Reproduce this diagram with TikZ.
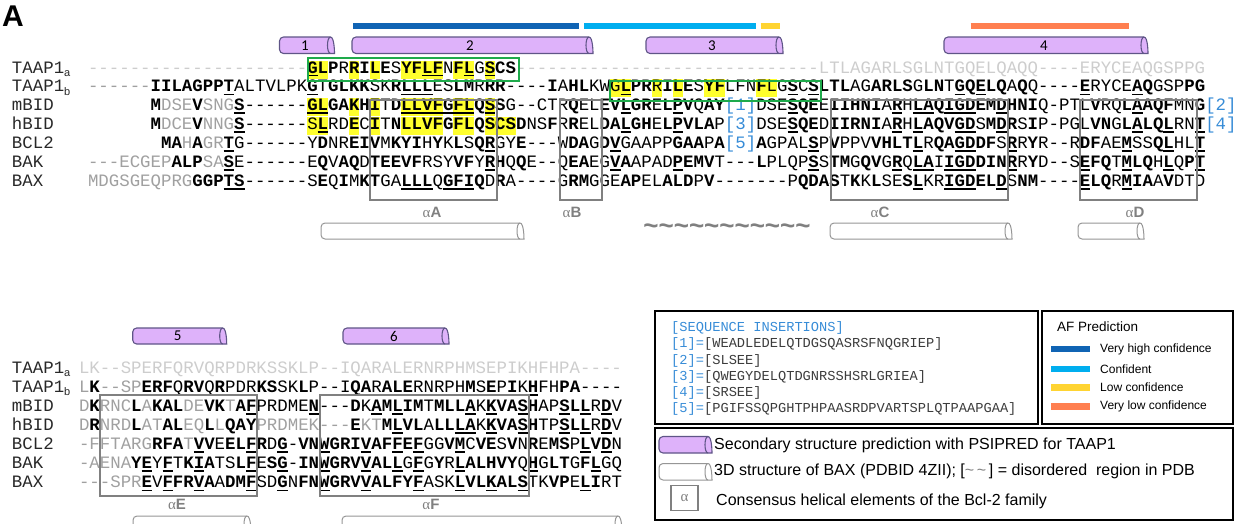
\documentclass[tikz,border=0pt]{standalone}
\usepackage{fontspec}
\setmainfont{Liberation Sans}
\setsansfont{Liberation Sans}
\setmonofont{Liberation Mono}
\newfontfamily\calib{Carlito}
\newfontfamily\serifgr{Liberation Serif}
\definecolor{sgray}{RGB}{160,160,160}
\definecolor{slight}{RGB}{205,205,205}
\definecolor{hl}{RGB}{255,255,45}
\definecolor{insb}{RGB}{55,140,215}
\definecolor{hgreen}{RGB}{30,170,75}
\definecolor{boxg}{RGB}{128,128,128}
\definecolor{labc}{RGB}{40,40,40}
\definecolor{afdark}{RGB}{16,100,180}
\definecolor{aflight}{RGB}{0,174,239}
\definecolor{afyel}{RGB}{255,212,50}
\definecolor{aforg}{RGB}{255,127,80}
\definecolor{purp}{RGB}{222,178,250}
\definecolor{purpd}{RGB}{95,85,135}
\definecolor{cylg}{RGB}{150,150,150}
\definecolor{legt}{RGB}{60,60,60}
\newcommand\seqfont{\ttfamily\fontsize{17.4}{18}\selectfont}
\newcommand\legmono{\ttfamily\fontsize{13.7}{14}\selectfont}
\newcommand\dd[1]{\ifnum#1>0 -\expandafter\dd\expandafter{\number\numexpr#1-1\relax}\fi}
\newcommand\sB[1]{{\bfseries\color{black}#1}}
\newcommand\sU[1]{\setbox0=\hbox{\bfseries\color{black}#1}\rlap{\color{black}\rule[-3.4pt]{\wd0}{1.8pt}}\box0\relax}
\newcommand\sY[1]{\setbox0=\hbox{\bfseries\color{black}#1}\rlap{\color{hl}\rule[-5.5pt]{\wd0}{18pt}}\box0\relax}
\newcommand\sYU[1]{\sY{\sU{#1}}}
\newcommand\sGY[1]{\setbox0=\hbox{#1}\rlap{\color{hl}\rule[-5.5pt]{\wd0}{18pt}}\box0\relax}
\newcommand\sI[1]{{\color{insb}#1}}
\newcommand\subl[1]{\raisebox{-3.5pt}{\sffamily\fontsize{11}{11}\selectfont #1}}
\newcommand\cyl[5]{%
 \draw[#5] (#3,#2) [rounded corners=4pt] -- (#1,#2) -- (#1,#4) -- (#3,#4) [sharp corners] .. controls ({#3+4},#4) and ({#3+4},#2) .. (#3,#2) -- cycle;
 \draw[#5,fill=none] (#3,#2) .. controls ({#3-4},#2) and ({#3-4},#4) .. (#3,#4);}
\newcommand\tl{\textasciitilde}
\begin{document}
\begin{tikzpicture}[x=1pt,y=-1pt,
  seq/.style={inner sep=0pt,outer sep=0pt,anchor=base west,text=sgray,font=\seqfont},
  lab/.style={inner sep=0pt,outer sep=0pt,anchor=base west,text=labc,font=\seqfont},
  hbx/.style={draw=boxg,line width=1.8pt},
  gbx/.style={draw=hgreen,line width=2.4pt},
  lbx/.style={draw=black,line width=2.8pt},
  cylp/.style={fill=purp,draw=purpd,line width=1.1pt},
  cylw/.style={fill=white,draw=cylg,line width=1pt},
  num/.style={inner sep=0pt,font=\calib\fontsize{15}{15}\selectfont,text=black},
  hlab/.style={inner sep=0pt,text=boxg,font=\sffamily\bfseries\fontsize{15}{15}\selectfont},
  afbar/.style={line width=6.5pt},
  leg/.style={inner sep=0pt,anchor=west,text=black,font=\sffamily\fontsize{16}{16}\selectfont},
  afl/.style={inner sep=0pt,anchor=west,text=black,font=\sffamily\fontsize{12}{12}\selectfont},
  lm/.style={inner sep=0pt,anchor=base west,text=legt,font=\legmono}]
\useasboundingbox (0,0) rectangle (1239,523);
\def\cw{10.44}
% panel letter
\node[inner sep=0pt,anchor=base west,font=\sffamily\bfseries\fontsize{30}{30}\selectfont] (pA) at (2,26) {A};
% AF prediction bars
\draw[afbar,afdark] (353,26) -- (579,26);
\draw[afbar,aflight] (584,26) -- (756,26);
\draw[afbar,afyel] (760.5,26) -- (780,26);
\draw[afbar,aforg] (970.7,26) -- (1129,26);
% PSIPRED cylinders
\cyl{279.5}{37}{330.5}{53.5}{cylp}
\cyl{352}{37}{589}{53.5}{cylp}
\cyl{646}{37}{779}{53.5}{cylp}
\cyl{944}{37}{1144}{53.5}{cylp}
\node[num] (n1) at (305,45.5) {1};
\node[num] (n2) at (470,45.5) {2};
\node[num] (n3) at (712,45.5) {3};
\node[num] (n4) at (1044,45.5) {4};
% top labels
\node[lab] (lt1) at (12,73) {TAAP1\subl{a}};
\node[lab] (lt2) at (12,91.9) {TAAP1\subl{b}};
\node[lab] (lt3) at (12,110.8) {mBID};
\node[lab] (lt4) at (12,129.7) {hBID};
\node[lab] (lt5) at (12,148.6) {BCL2};
\node[lab] (lt6) at (12,167.5) {BAK};
\node[lab] (lt7) at (12,186.4) {BAX};
% top sequences
\node[seq,text=slight] (t1) at (88,73) {\dd{21}{\color{sgray}\sYU{G}\sY{L}\sB{P}R\sY{R}\sB{I}\sY{L}\sB{E}S\sY{YF}\sYU{LF}N\sY{F}\sYU{L}G\sYU{S}\sB{CS}}\dd{29}LTLAGARLSGLNTGQELQAQQ----ERYCEAQGSPPG};
\node[seq] (t2) at (88,91.9) {\dd{6}\sB{IILAGPP}\sU{T}ALTVLPK\sU{G}T\sB{GLKK}SK\sB{R}\sU{LLL}ES\sB{LM}R\sB{RR}\dd{4}\sB{I}A\sB{HL}KW\sGY{G}\sYU{L}\sB{PR}\sGY{R}\sB{I}\sY{L}\sB{E}S\sY{YF}LFN\sY{F}\sGY{L}G\sU{S}C\sU{S}\sB{LTL}AG\sB{ARLS}G\sB{LN}T\sU{G}\sB{Q}\sU{E}\sB{LQ}A\sB{Q}Q\dd{4}\sU{E}RYCE\sU{A}\sB{Q}GSP\sB{PG}};
\node[seq] (t3) at ({88+6*\cw},110.8) {\sB{M}DSE\sB{V}SNG\sU{S}\dd{6}\sYU{GL}\sB{GA}\sY{K}\sB{H}\sY{I}T\sB{D}\sYU{LLVF}\sU{G}\sYU{FL}\sB{Q}\sYU{S}\sB{S}G\dd{2}CTR\sB{Q}EL\sB{EV}\sU{L}\sB{GR}E\sB{L}\sU{P}\sB{V}Q\sB{AY}\sI{[1]}DSE\sU{S}\sB{QE}E\sB{IIHNI}A\sU{R}H\sU{LA}\sB{Q}\sU{IGD}\sB{EM}\sU{D}\sB{HNI}Q-PTL\sB{V}RQ\sB{L}\sU{A}\sB{AQF}MN\sB{G}\sI{[2]}};
\node[seq] (t4) at ({88+6*\cw},129.7) {\sB{M}DCE\sB{V}NNG\sU{S}\dd{6}\sGY{S}\sYU{L}RD\sY{E}C\sY{I}T\sB{N}\sY{LLVF}\sB{G}\sY{FL}\sB{Q}\sY{SCS}\sB{D}NS\sB{F}R\sB{R}EL\sB{DA}\sU{L}\sB{GH}E\sB{L}\sU{P}\sB{VLA}P\sI{[3]}DSE\sU{S}\sB{QE}D\sB{IIRNI}A\sU{R}H\sU{L}\sB{AQV}\sU{GD}S\sB{M}\sU{D}\sB{R}S\sB{I}P-PGL\sB{VN}G\sB{L}\sU{A}\sB{LQ}\sU{L}RN\sU{T}\sI{[4]}};
\node[seq] (t5) at ({88+7*\cw},148.6) {\sB{MA}H\sB{A}GR\sU{T}G\dd{6}Y\sB{D}NR\sB{EIV}M\sB{KYI}H\sB{Y}K\sB{L}S\sB{Q}\sU{R}GY\sB{E}\dd{3}W\sB{DA}G\sB{D}\sU{V}GAAPP\sB{GAA}P\sB{A}\sI{[5]}\sB{A}GPAL\sU{S}P\sB{V}PPV\sB{VHLT}\sU{L}R\sB{QA}\sU{GD}\sB{DF}S\sU{R}R\sB{Y}R\dd{2}R\sB{DF}AE\sU{M}SS\sB{Q}\sU{L}HL\sU{T}};
\node[seq] (t6) at (88,167.5) {\dd{3}ECGEP\sB{ALP}SA\sU{S}E\dd{6}E\sB{Q}V\sB{AQ}D\sB{TEEVF}RSY\sB{VF}Y\sU{R}\sB{H}Q\sB{Q}E\dd{2}Q\sB{EA}EG\sU{V}\sB{A}APAD\sU{P}\sB{EMV}T\dd{3}\sB{L}PLQP\sU{S}S\sB{TM}G\sB{QV}G\sU{R}Q\sU{LA}I\sU{IGD}\sB{DIN}\sU{R}R\sB{Y}D\dd{2}S\sU{E}\sB{FQ}T\sU{M}\sB{LQ}H\sU{L}Q\sB{P}\sU{T}};
\node[seq] (t7) at (88,186.4) {MDGSGEQPRG\sB{GGP}\sU{TS}\dd{6}S\sB{E}Q\sB{I}M\sB{KT}GA\sU{LLL}Q\sU{GFI}\sB{Q}D\sB{R}A\dd{4}G\sB{RM}GGE\sB{AP}EL\sB{ALD}P\sB{V}\dd{7}P\sB{QDAS}T\sB{K}K\sB{L}SE\sB{S}\sU{L}KR\sU{IGD}\sB{EL}\sU{D}S\sB{NM}\dd{4}\sU{E}\sB{LQ}R\sU{M}\sB{IA}A\sB{V}DTD};
% green boxes
\draw[gbx] (308,58) rectangle (519,80.7);
\draw[gbx] (610,80.7) rectangle (821,100.7);
% helix boxes top
\draw[hbx] (370,100) rectangle (497,200);
\draw[hbx] (560,100) rectangle (602,200);
\draw[hbx] (831,100) rectangle (1008,200);
\draw[hbx] (1080,100) rectangle (1197,200);
\node[hlab] (ha) at (432,212) {{\serifgr\mdseries α}A};
\node[hlab] (hb) at (572,212) {{\serifgr\mdseries α}B};
\node[hlab] (hc) at (880,212) {{\serifgr\mdseries α}C};
\node[hlab] (hd) at (1135,212) {{\serifgr\mdseries α}D};
% BAX 3D cylinders
\cyl{321}{223}{520}{239}{cylw}
\cyl{830}{223}{1008}{239}{cylw}
\cyl{1078}{223}{1140}{239}{cylw}
\node[inner sep=0pt,text=boxg,font=\sffamily\bfseries\fontsize{26}{26}\selectfont] (tld) at (727,229) {\tl\tl\tl\tl\tl\tl\tl\tl\tl\tl\tl};
% bottom block
\cyl{132.7}{328}{222.7}{344}{cylp}
\cyl{343}{328}{445}{344}{cylp}
\node[num] (n5) at (177.7,336) {5};
\node[num] (n6) at (394,336) {6};
\node[lab] (lb1) at (12,373) {TAAP1\subl{a}};
\node[lab] (lb2) at (12,392.1) {TAAP1\subl{b}};
\node[lab] (lb3) at (12,411.3) {mBID};
\node[lab] (lb4) at (12,430.4) {hBID};
\node[lab] (lb5) at (12,449.6) {BCL2};
\node[lab] (lb6) at (12,468.7) {BAK};
\node[lab] (lb7) at (12,487.9) {BAX};
\node[seq,text=slight] (b1) at (79,373) {LK\dd{2}SPERFQRVQRPDRKSSKLP\dd{2}IQARALERNRPHMSEPIKHFHPA\dd{4}};
\node[seq] (b2) at (79,392.1) {L\sB{K}\dd{2}SP\sU{E}\sB{R}\sU{F}Q\sB{R}\sU{V}Q\sB{R}PDR\sB{KS}SK\sB{L}P\dd{2}I\sB{QA}R\sB{A}\sU{L}\sB{E}RNRPH\sB{M}S\sB{E}P\sB{I}K\sU{H}FH\sB{PA}\dd{4}};
\node[seq] (b3) at (79,411.3) {D\sB{K}RNC\sB{L}A\sB{KAL}DE\sB{VK}T\sB{A}\sU{F}PRDME\sU{N}\dd{3}\sB{D}K\sU{A}\sB{M}\sU{L}\sB{IM}T\sB{MLL}\sU{A}K\sU{K}\sB{VA}\sU{S}\sB{H}AP\sU{S}\sB{L}\sU{L}R\sU{D}V};
\node[seq] (b4) at (79,430.4) {D\sB{R}NRD\sB{L}AT\sB{AL}EQ\sB{L}L\sB{QAY}PRDMEK\dd{3}\sB{E}KT\sB{M}\sU{L}\sB{VL}A\sB{LL}\sU{LA}K\sU{K}\sB{VA}\sU{S}\sB{H}TP\sU{S}\sB{L}\sU{L}R\sU{D}V};
\node[seq] (b5) at (79,449.6) {-FFTARG\sB{RFA}T\sU{V}\sB{V}E\sB{EL}\sU{F}\sB{R}D\sU{G}-\sB{VN}\sU{W}\sB{GRI}\sU{V}\sB{AF}\sU{F}\sB{E}\sU{F}GG\sB{V}\sU{M}C\sB{VE}S\sB{V}N\sB{R}E\sB{MS}P\sU{L}\sB{V}\sU{D}N};
\node[seq] (b6) at (79,468.7) {-AENA\sB{Y}\sU{E}Y\sU{F}T\sB{K}\sU{I}\sB{A}TS\sB{L}\sU{F}E\sB{S}\sU{G}-\sB{IN}\sU{W}\sB{GRV}\sU{V}\sB{AL}\sU{L}G\sU{F}G\sB{Y}R\sU{L}\sB{ALHVY}Q\sU{H}G\sB{LT}G\sB{F}\sU{L}GQ};
\node[seq] (b7) at (79,487.9) {\dd{3}SPR\sU{E}V\sU{F}\sB{FR}\sU{V}\sB{A}A\sB{DM}\sU{F}SD\sU{G}N\sB{FN}\sU{W}\sB{GRV}\sU{V}\sB{ALFY}\sU{F}ASK\sU{L}\sB{VL}\sU{K}\sB{AL}\sU{S}TK\sB{VP}E\sU{L}\sB{I}RT};
\draw[hbx] (100,395) rectangle (257,496);
\draw[hbx] (320,395) rectangle (529,496);
\node[hlab] (he) at (177,504) {{\serifgr\mdseries α}E};
\node[hlab] (hf) at (431,504) {{\serifgr\mdseries α}F};
\cyl{133}{516}{247}{532}{cylw}
\cyl{342}{516}{618}{532}{cylw}
% legend box 1
\draw[lbx] (655,311) rectangle (1038,424);
\node[lm,text=insb] (sq0) at (671,331) {[SEQUENCE INSERTIONS]};
\node[lm] (sq1) at (671,347.5) {{\color{insb}[1]=}[WEADLEDELQTDGSQASRSFNQGRIEP]};
\node[lm] (sq2) at (671,364.5) {{\color{insb}[2]=}[SLSEE]};
\node[lm] (sq3) at (671,380.5) {{\color{insb}[3]=}[QWEGYDELQTDGNRSSHSRLGRIEA]};
\node[lm] (sq4) at (671,396.5) {{\color{insb}[4]=}[SRSEE]};
\node[lm] (sq5) at (671,412.5) {{\color{insb}[5]=}[PGIFSSQPGHTPHPAASRDPVARTSPLQTPAAPGAA]};
% legend box 2
\draw[lbx] (1042,311) rectangle (1233,424);
\node[inner sep=0pt,anchor=west,font=\sffamily\fontsize{13.5}{13.5}\selectfont] (afp) at (1057,327) {AF Prediction};
\draw[afbar,afdark] (1051,349) -- (1090,349);
\draw[afbar,aflight] (1051,369) -- (1090,369);
\draw[afbar,afyel] (1051,387.3) -- (1090,387.3);
\draw[afbar,aforg] (1051,406.7) -- (1090,406.7);
\node[afl] (af1) at (1100,349) {Very high confidence};
\node[afl] (af2) at (1100,369) {Confident};
\node[afl] (af3) at (1100,387.3) {Low confidence};
\node[afl] (af4) at (1100,406.7) {Very low confidence};
% legend box 3
\draw[lbx] (655,428) rectangle (1233,520);
\cyl{659}{436.5}{708}{453}{cylp}
\cyl{659}{463.5}{708}{480}{cylw}
\node[leg] (lg1) at (714,445) {Secondary structure prediction with PSIPRED for TAAP1};
\node[leg] (lg2) at (714,471.5) {3D structure of BAX (PDBID 4ZII); [{\color{boxg}\tl\,\tl}\,] = disordered\ \ region in PDB};
\draw[draw=boxg,line width=1.8pt] (671,485.5) rectangle (698,510.5);
\node[inner sep=0pt,text=boxg,font=\serifgr\fontsize{15}{15}\selectfont] (alp) at (684.5,498) {α};
\node[leg] (lg3) at (716,501.5) {Consensus helical elements of the Bcl-2 family};
\end{tikzpicture}
\end{document}
